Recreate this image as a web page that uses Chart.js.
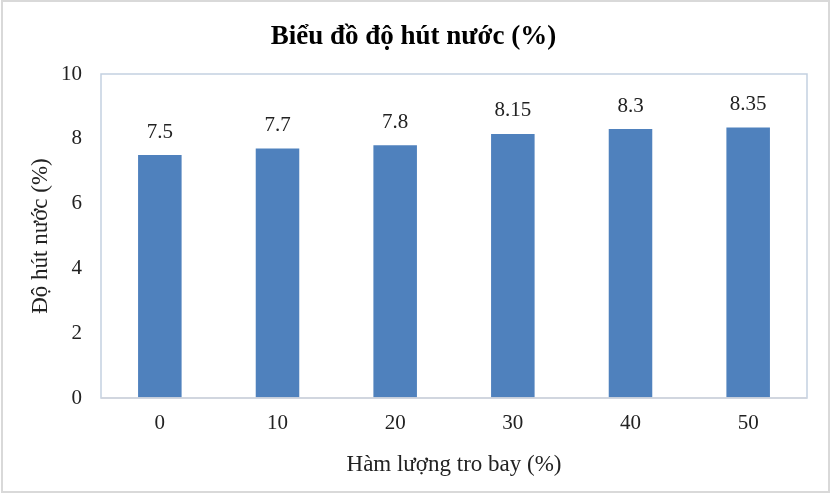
<!DOCTYPE html>
<html>
<head>
<meta charset="utf-8">
<script src="https://cdn.jsdelivr.net/npm/chart.js@4.4.1/dist/chart.umd.min.js"></script>
<style>
  html, body { margin: 0; padding: 0; background: #fff; }
  canvas { display: block; }
</style>
</head>
<body>
<canvas id="chart" width="831" height="494"></canvas>
<script>
const categories = ["0", "10", "20", "30", "40", "50"];
const absorption = [7.5, 7.7, 7.8, 8.15, 8.3, 8.35];
const yTicks = [0, 2, 4, 6, 8, 10];
const chartTitle = "Biểu đồ độ hút nước (%)";

const FONT = "'Liberation Serif', 'Times New Roman', serif";

// Background, outer border, title centred on the whole canvas
const framePlugin = {
    id: "frame",
    beforeDraw(chart) {
        const ctx = chart.ctx;
        ctx.save();
        ctx.fillStyle = "#fff";
        ctx.fillRect(0, 0, chart.width, chart.height);
        ctx.strokeStyle = "#d9d9d9";
        ctx.lineWidth = 2;
        ctx.strokeRect(2, 1, chart.width - 4, chart.height - 3);
        ctx.fillStyle = "#000";
        ctx.font = "bold 27px " + FONT;
        ctx.textAlign = "center";
        ctx.textBaseline = "middle";
        ctx.fillText(chartTitle, chart.width / 2 - 2, 37);
        ctx.restore();
    },
    afterDatasetsDraw(chart) {
        const { ctx, chartArea: a } = chart;
        ctx.save();
        ctx.strokeStyle = "#c3d1e1";
        ctx.lineWidth = 1.5;
        ctx.strokeRect(a.left, a.top, a.right - a.left, a.bottom - a.top);
        ctx.strokeStyle = "#d0d5dc";
        ctx.beginPath();
        ctx.moveTo(a.left, a.bottom);
        ctx.lineTo(a.right, a.bottom);
        ctx.stroke();
        ctx.restore();
    }
};

// Value labels above the bars
const labelPlugin = {
    id: "barLabels",
    afterDatasetsDraw(chart) {
        const ctx = chart.ctx;
        const meta = chart.getDatasetMeta(0);
        ctx.save();
        ctx.fillStyle = "#222";
        ctx.font = "21px " + FONT;
        ctx.textAlign = "center";
        ctx.textBaseline = "middle";
        meta.data.forEach((bar, i) => {
            ctx.fillText(String(absorption[i]), bar.x, bar.y - 23);
        });
        ctx.restore();
    }
};

new Chart(document.getElementById("chart"), {
    type: "bar",
    data: {
        labels: categories,
        datasets: [{
            data: absorption,
            backgroundColor: "#4f81bd",
            categoryPercentage: 1,
            barPercentage: 0.37
        }]
    },
    options: {
        responsive: false,
        animation: false,
        layout: { padding: { left: 0, right: 24, top: 74, bottom: 0 } },
        plugins: {
            legend: { display: false },
            tooltip: { enabled: false },
            title: { display: false }
        },
        scales: {
            x: {
                grid: { display: false, drawTicks: false },
                border: { display: false },
                ticks: { color: "#222", font: { family: FONT, size: 21 }, padding: 13 },
                title: {
                    display: true,
                    text: "Hàm lượng tro bay (%)",
                    color: "#222",
                    font: { family: FONT, size: 23 },
                    padding: { top: 10, bottom: 15 }
                },
                afterFit(scale) { scale.height = 96; }
            },
            y: {
                min: 0,
                max: 10,
                afterBuildTicks(scale) { scale.ticks = yTicks.map(v => ({ value: v })); },
                grid: { display: false, drawTicks: false },
                border: { display: false },
                ticks: { color: "#222", font: { family: FONT, size: 21 }, padding: 19 },
                title: {
                    display: true,
                    text: "Độ hút nước (%)",
                    color: "#222",
                    font: { family: FONT, size: 23 },
                    padding: { top: 27, bottom: 10 }
                },
                afterFit(scale) { scale.width = 101; }
            }
        }
    },
    plugins: [framePlugin, labelPlugin]
});
</script>
</body>
</html>
